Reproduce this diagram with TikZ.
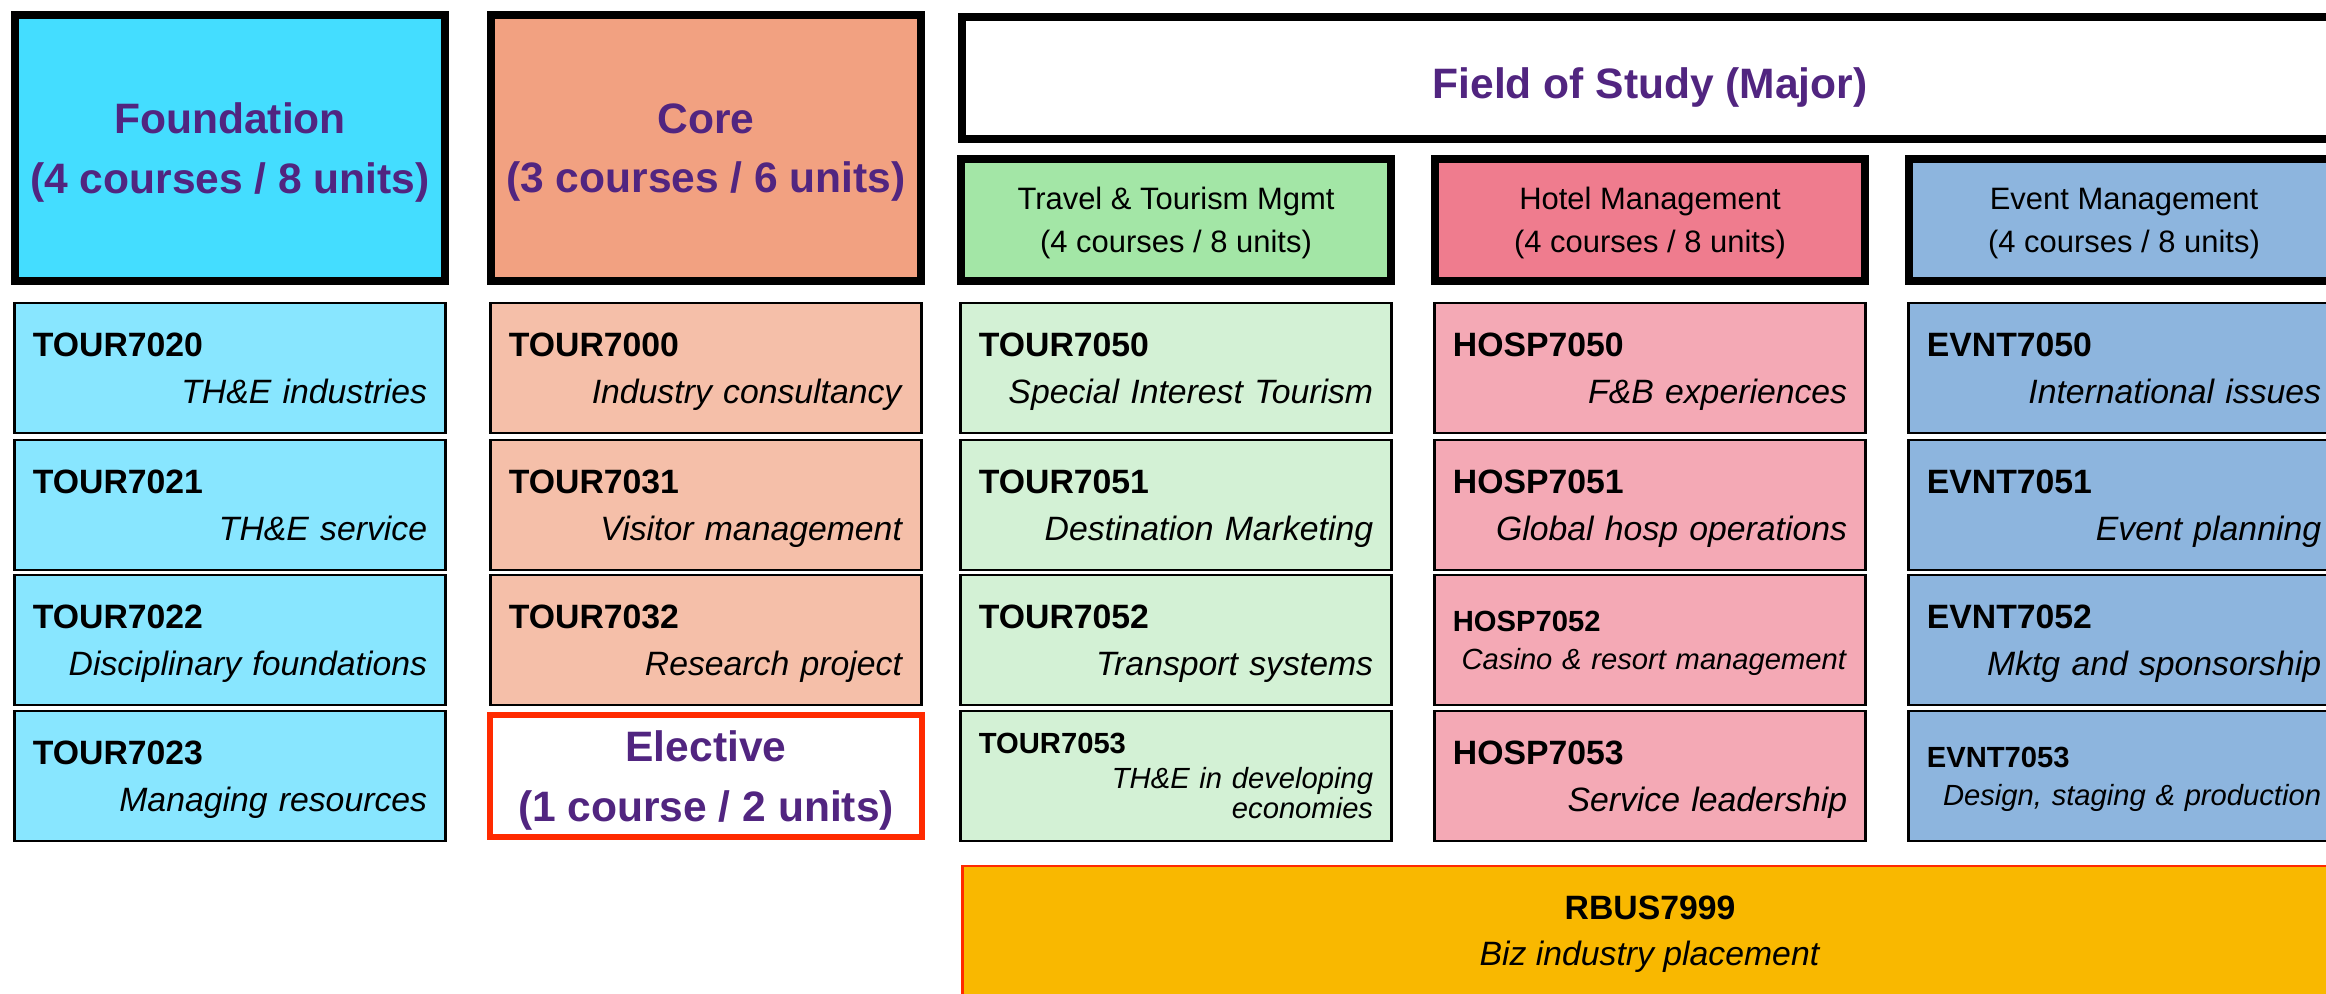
\documentclass[tikz,border=0pt]{standalone}
\usepackage{fontspec}
\setmainfont{Liberation Sans}
\usepackage{xcolor}
\usepackage{tikz}
\usetikzlibrary{positioning}

\definecolor{plum}{HTML}{512580}
\definecolor{fndhead}{HTML}{44DDFF}
\definecolor{fndcourse}{HTML}{88E6FF}
\definecolor{corehead}{HTML}{F2A181}
\definecolor{corecourse}{HTML}{F5BFA9}
\definecolor{tthead}{HTML}{A3E6A6}
\definecolor{ttcourse}{HTML}{D3F1D5}
\definecolor{hothead}{HTML}{EF7C8E}
\definecolor{hotcourse}{HTML}{F4A9B5}
\definecolor{evhead}{HTML}{8DB5DE}
\definecolor{evcourse}{HTML}{8DB5DE}
\definecolor{rbusfill}{HTML}{F9B800}
\definecolor{alarm}{HTML}{FF2A00}

\begin{document}
\begin{tikzpicture}[x=0.01cm, y=-0.01cm,
    bighead/.style={draw=black, line width=2.3pt, minimum width=4.3cm, minimum height=2.66cm,
        align=center, text=plum, font=\fontsize{12.1}{16.9}\selectfont\bfseries},
    subhead/.style={draw=black, line width=2.3pt, minimum width=4.3cm, minimum height=1.22cm,
        align=center, font=\fontsize{8.8}{12.2}\selectfont},
    course/.style={draw=black, line width=0.8pt, text width=3.94cm, inner xsep=0.18cm,
        minimum height=1.3cm, align=left, font=\fontsize{9.6}{13.3}\selectfont},
    smallcourse/.style={course, font=\fontsize{8.3}{10.7}\selectfont}]

    \useasboundingbox (0,0) rectangle (2326,993);
    \clip (0,0) rectangle (2326,993);

    % Headers
    \node (fndhd) at (230,148) [bighead, fill=fndhead] {Foundation\\\smash{(4 courses / 8 units)}};
    \node (corehd) at (706,148) [bighead, fill=corehead] {Core\\\smash{(3 courses / 6 units)}};
    \node (majorhd) at (1650,78) [bighead, fill=white, minimum width=13.75cm, minimum height=1.22cm,
        text height=11.4pt, text depth=0pt] {Field of Study (Major)};

    \node (tthd) at (1176,220) [subhead, fill=tthead] {Travel \& Tourism Mgmt\\\smash{(4 courses / 8 units)}};
    \node (hothd) at (1650,220) [subhead, fill=hothead] {Hotel Management\\\smash{(4 courses / 8 units)}};
    \node (evhd) at (2124,220) [subhead, fill=evhead] {Event Management\\\smash{(4 courses / 8 units)}};

    % Foundation courses
    \node (fnd1) at (230,368) [course, fill=fndcourse] {\textbf{TOUR7020}\\ \hspace*{\fill}\smash{\textit{TH\&E industries}}};
    \node (fnd2) at (230,505) [course, fill=fndcourse] {\textbf{TOUR7021}\\ \hspace*{\fill}\smash{\textit{TH\&E service}}};
    \node (fnd3) at (230,640) [course, fill=fndcourse] {\textbf{TOUR7022}\\ \hspace*{\fill}\smash{\textit{Disciplinary foundations}}};
    \node (fnd4) at (230,776) [course, fill=fndcourse] {\textbf{TOUR7023}\\ \hspace*{\fill}\smash{\textit{Managing resources}}};

    % Core courses
    \node (core1) at (706,368) [course, fill=corecourse] {\textbf{TOUR7000}\\ \hspace*{\fill}\smash{\textit{Industry consultancy}}};
    \node (core2) at (706,505) [course, fill=corecourse] {\textbf{TOUR7031}\\ \hspace*{\fill}\smash{\textit{Visitor management}}};
    \node (core3) at (706,640) [course, fill=corecourse] {\textbf{TOUR7032}\\ \hspace*{\fill}\smash{\textit{Research project}}};
    \node (elective) at (706,776) [draw=alarm, fill=white, line width=1.7pt, minimum width=4.31cm, minimum height=1.22cm,
        align=center, text=plum, font=\fontsize{12.1}{16.9}\selectfont\bfseries] {Elective\\\smash{(1 course / 2 units)}};

    % Travel & Tourism courses
    \node (tt1) at (1176,368) [course, fill=ttcourse] {\textbf{TOUR7050}\\ \hspace*{\fill}\smash{\textit{Special Interest Tourism}}};
    \node (tt2) at (1176,505) [course, fill=ttcourse] {\textbf{TOUR7051}\\ \hspace*{\fill}\smash{\textit{Destination Marketing}}};
    \node (tt3) at (1176,640) [course, fill=ttcourse] {\textbf{TOUR7052}\\ \hspace*{\fill}\smash{\textit{Transport systems}}};
    \node (tt4) at (1176,776) [smallcourse, fill=ttcourse, font=\fontsize{8.3}{8.6}\selectfont] {\textbf{TOUR7053}\\[1.2pt] \hspace*{\fill}\textit{TH\&E in developing}\\ \hspace*{\fill}\smash{\textit{economies}}};

    % Hotel courses
    \node (hot1) at (1650,368) [course, fill=hotcourse] {\textbf{HOSP7050}\\ \hspace*{\fill}\smash{\textit{F\&B experiences}}};
    \node (hot2) at (1650,505) [course, fill=hotcourse] {\textbf{HOSP7051}\\ \hspace*{\fill}\smash{\textit{Global hosp operations}}};
    \node (hot3) at (1650,640) [smallcourse, fill=hotcourse] {\textbf{HOSP7052}\\ \hspace*{\fill}\smash{\textit{Casino \& resort management}}};
    \node (hot4) at (1650,776) [course, fill=hotcourse] {\textbf{HOSP7053}\\ \hspace*{\fill}\smash{\textit{Service leadership}}};

    % Event courses
    \node (ev1) at (2124,368) [course, fill=evcourse] {\textbf{EVNT7050}\\ \hspace*{\fill}\smash{\textit{International issues}}};
    \node (ev2) at (2124,505) [course, fill=evcourse] {\textbf{EVNT7051}\\ \hspace*{\fill}\smash{\textit{Event planning}}};
    \node (ev3) at (2124,640) [course, fill=evcourse] {\textbf{EVNT7052}\\ \hspace*{\fill}\smash{\textit{Mktg and sponsorship}}};
    \node (ev4) at (2124,776) [smallcourse, fill=evcourse] {\textbf{EVNT7053}\\ \hspace*{\fill}\smash{\textit{Design, staging \& production}}};

    % Placement
    \node (rbus) at (1650,934) [draw=alarm, fill=rbusfill, line width=0.8pt, minimum width=13.75cm, minimum height=1.36cm,
        align=center, font=\fontsize{9.6}{13.1}\selectfont] {\textbf{RBUS7999}\\\textit{Biz industry placement}};
\end{tikzpicture}
\end{document}
